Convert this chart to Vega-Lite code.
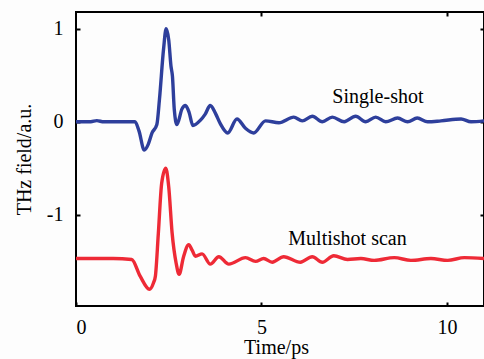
{
  "$schema": "https://vega.github.io/schema/vega-lite/v6.json",
  "width": 408,
  "height": 294,
  "autosize": "none",
  "padding": {"left": 76, "top": 12, "right": 0, "bottom": 53},
  "background": "#fdfdfd",
  "config": {
    "view": {"stroke": "#000000", "strokeWidth": 2},
    "axis": {
      "grid": false,
      "domain": false,
      "ticks": true,
      "tickColor": "#000000",
      "tickWidth": 2,
      "tickSize": -4,
      "labelFont": "Liberation Serif",
      "labelFontSize": 20,
      "labelColor": "#000000",
      "titleFont": "Liberation Serif",
      "titleFontSize": 20,
      "titleFontWeight": "normal",
      "titleColor": "#000000"
    }
  },
  "datasets": {
    "curves": [
      {"t": 0, "v": 0, "s": "Single-shot"},
      {"t": 0.4, "v": 0, "s": "Single-shot"},
      {"t": 0.56, "v": 0.012, "s": "Single-shot"},
      {"t": 0.75, "v": 0, "s": "Single-shot"},
      {"t": 1.59, "v": 0, "s": "Single-shot"},
      {"t": 1.7, "v": -0.1, "s": "Single-shot"},
      {"t": 1.84, "v": -0.305, "s": "Single-shot"},
      {"t": 1.95, "v": -0.24, "s": "Single-shot"},
      {"t": 2.05, "v": -0.12, "s": "Single-shot"},
      {"t": 2.18, "v": -0.03, "s": "Single-shot"},
      {"t": 2.25, "v": 0.24, "s": "Single-shot"},
      {"t": 2.36, "v": 0.78, "s": "Single-shot"},
      {"t": 2.43, "v": 1.0, "s": "Single-shot"},
      {"t": 2.5, "v": 0.88, "s": "Single-shot"},
      {"t": 2.56, "v": 0.6, "s": "Single-shot"},
      {"t": 2.6, "v": 0.49, "s": "Single-shot"},
      {"t": 2.65, "v": 0.13, "s": "Single-shot"},
      {"t": 2.72, "v": -0.03, "s": "Single-shot"},
      {"t": 2.86, "v": 0.14, "s": "Single-shot"},
      {"t": 2.95, "v": 0.175, "s": "Single-shot"},
      {"t": 3.05, "v": 0.1, "s": "Single-shot"},
      {"t": 3.15, "v": -0.04, "s": "Single-shot"},
      {"t": 3.35, "v": 0.015, "s": "Single-shot"},
      {"t": 3.48, "v": 0.08, "s": "Single-shot"},
      {"t": 3.62, "v": 0.175, "s": "Single-shot"},
      {"t": 3.76, "v": 0.09, "s": "Single-shot"},
      {"t": 3.89, "v": -0.02, "s": "Single-shot"},
      {"t": 4.09, "v": -0.12, "s": "Single-shot"},
      {"t": 4.34, "v": 0.03, "s": "Single-shot"},
      {"t": 4.57, "v": -0.07, "s": "Single-shot"},
      {"t": 4.79, "v": -0.12, "s": "Single-shot"},
      {"t": 5.11, "v": 0.01, "s": "Single-shot"},
      {"t": 5.47, "v": -0.01, "s": "Single-shot"},
      {"t": 5.87, "v": 0.05, "s": "Single-shot"},
      {"t": 6.1, "v": 0.01, "s": "Single-shot"},
      {"t": 6.37, "v": 0.06, "s": "Single-shot"},
      {"t": 6.64, "v": 0, "s": "Single-shot"},
      {"t": 6.91, "v": 0.05, "s": "Single-shot"},
      {"t": 7.23, "v": 0, "s": "Single-shot"},
      {"t": 7.54, "v": 0.06, "s": "Single-shot"},
      {"t": 7.81, "v": 0, "s": "Single-shot"},
      {"t": 8.08, "v": 0.05, "s": "Single-shot"},
      {"t": 8.35, "v": 0, "s": "Single-shot"},
      {"t": 8.67, "v": 0.04, "s": "Single-shot"},
      {"t": 8.94, "v": 0, "s": "Single-shot"},
      {"t": 9.2, "v": 0.04, "s": "Single-shot"},
      {"t": 9.48, "v": 0, "s": "Single-shot"},
      {"t": 9.84, "v": 0.01, "s": "Single-shot"},
      {"t": 10.38, "v": 0.03, "s": "Single-shot"},
      {"t": 10.65, "v": 0, "s": "Single-shot"},
      {"t": 11, "v": 0.01, "s": "Single-shot"},
      {"t": 0, "v": -1.47, "s": "Multishot scan"},
      {"t": 1.0, "v": -1.47, "s": "Multishot scan"},
      {"t": 1.5, "v": -1.48, "s": "Multishot scan"},
      {"t": 1.73, "v": -1.66, "s": "Multishot scan"},
      {"t": 1.98, "v": -1.8, "s": "Multishot scan"},
      {"t": 2.09, "v": -1.73, "s": "Multishot scan"},
      {"t": 2.14, "v": -1.66, "s": "Multishot scan"},
      {"t": 2.22, "v": -1.2, "s": "Multishot scan"},
      {"t": 2.31, "v": -0.66, "s": "Multishot scan"},
      {"t": 2.42, "v": -0.5, "s": "Multishot scan"},
      {"t": 2.5, "v": -0.7, "s": "Multishot scan"},
      {"t": 2.59, "v": -1.19, "s": "Multishot scan"},
      {"t": 2.7, "v": -1.52, "s": "Multishot scan"},
      {"t": 2.78, "v": -1.64, "s": "Multishot scan"},
      {"t": 2.9, "v": -1.45, "s": "Multishot scan"},
      {"t": 3.04, "v": -1.32, "s": "Multishot scan"},
      {"t": 3.13, "v": -1.38, "s": "Multishot scan"},
      {"t": 3.22, "v": -1.445, "s": "Multishot scan"},
      {"t": 3.4, "v": -1.42, "s": "Multishot scan"},
      {"t": 3.62, "v": -1.53, "s": "Multishot scan"},
      {"t": 3.85, "v": -1.45, "s": "Multishot scan"},
      {"t": 4.12, "v": -1.53, "s": "Multishot scan"},
      {"t": 4.57, "v": -1.46, "s": "Multishot scan"},
      {"t": 4.84, "v": -1.5, "s": "Multishot scan"},
      {"t": 5.06, "v": -1.47, "s": "Multishot scan"},
      {"t": 5.29, "v": -1.51, "s": "Multishot scan"},
      {"t": 5.6, "v": -1.45, "s": "Multishot scan"},
      {"t": 6.05, "v": -1.51, "s": "Multishot scan"},
      {"t": 6.37, "v": -1.45, "s": "Multishot scan"},
      {"t": 6.64, "v": -1.51, "s": "Multishot scan"},
      {"t": 6.95, "v": -1.44, "s": "Multishot scan"},
      {"t": 7.32, "v": -1.48, "s": "Multishot scan"},
      {"t": 7.68, "v": -1.47, "s": "Multishot scan"},
      {"t": 8.04, "v": -1.49, "s": "Multishot scan"},
      {"t": 8.58, "v": -1.46, "s": "Multishot scan"},
      {"t": 9.03, "v": -1.49, "s": "Multishot scan"},
      {"t": 9.57, "v": -1.47, "s": "Multishot scan"},
      {"t": 10.02, "v": -1.49, "s": "Multishot scan"},
      {"t": 10.47, "v": -1.46, "s": "Multishot scan"},
      {"t": 11, "v": -1.47, "s": "Multishot scan"}
    ],
    "labels": [
      {"t": 8.14, "v": 0.27, "label": "Single-shot"},
      {"t": 7.32, "v": -1.255, "label": "Multishot scan"}
    ]
  },
  "layer": [
    {
      "data": {"name": "curves"},
      "mark": {"type": "line", "strokeWidth": 3.4, "interpolate": "monotone", "clip": true},
      "encoding": {
        "x": {
          "field": "t", "type": "quantitative",
          "scale": {"domain": [0, 11], "nice": false, "zero": false},
          "axis": {"orient": "bottom", "values": [0, 5, 10], "title": "Time/ps", "labelPadding": 15, "titlePadding": 0, "titleX": 200}
        },
        "y": {
          "field": "v", "type": "quantitative",
          "scale": {"domain": [-1.98, 1.18], "nice": false, "zero": false},
          "axis": {"orient": "left", "values": [-1, 0, 1], "title": "THz field/a.u.", "labelPadding": 17, "titlePadding": 12, "labelExpr": "replace(datum.label, '\u2212', '-')"}
        },
        "color": {
          "field": "s", "type": "nominal",
          "scale": {"domain": ["Single-shot", "Multishot scan"], "range": ["#2e3f9c", "#ee2a36"]},
          "legend": null
        },
        "detail": {"field": "s"}
      }
    },
    {
      "data": {"name": "labels"},
      "mark": {"type": "text", "font": "Liberation Serif", "fontSize": 20, "color": "#000000", "align": "center", "baseline": "middle"},
      "encoding": {
        "x": {
          "field": "t", "type": "quantitative",
          "axis": {"orient": "top", "values": [5, 10], "labels": false, "title": null}
        },
        "y": {
          "field": "v", "type": "quantitative",
          "axis": {"orient": "right", "values": [-1, 0, 1], "labels": false, "title": null}
        },
        "text": {"field": "label"}
      }
    }
  ],
  "resolve": {"axis": {"x": "independent", "y": "independent"}}
}
